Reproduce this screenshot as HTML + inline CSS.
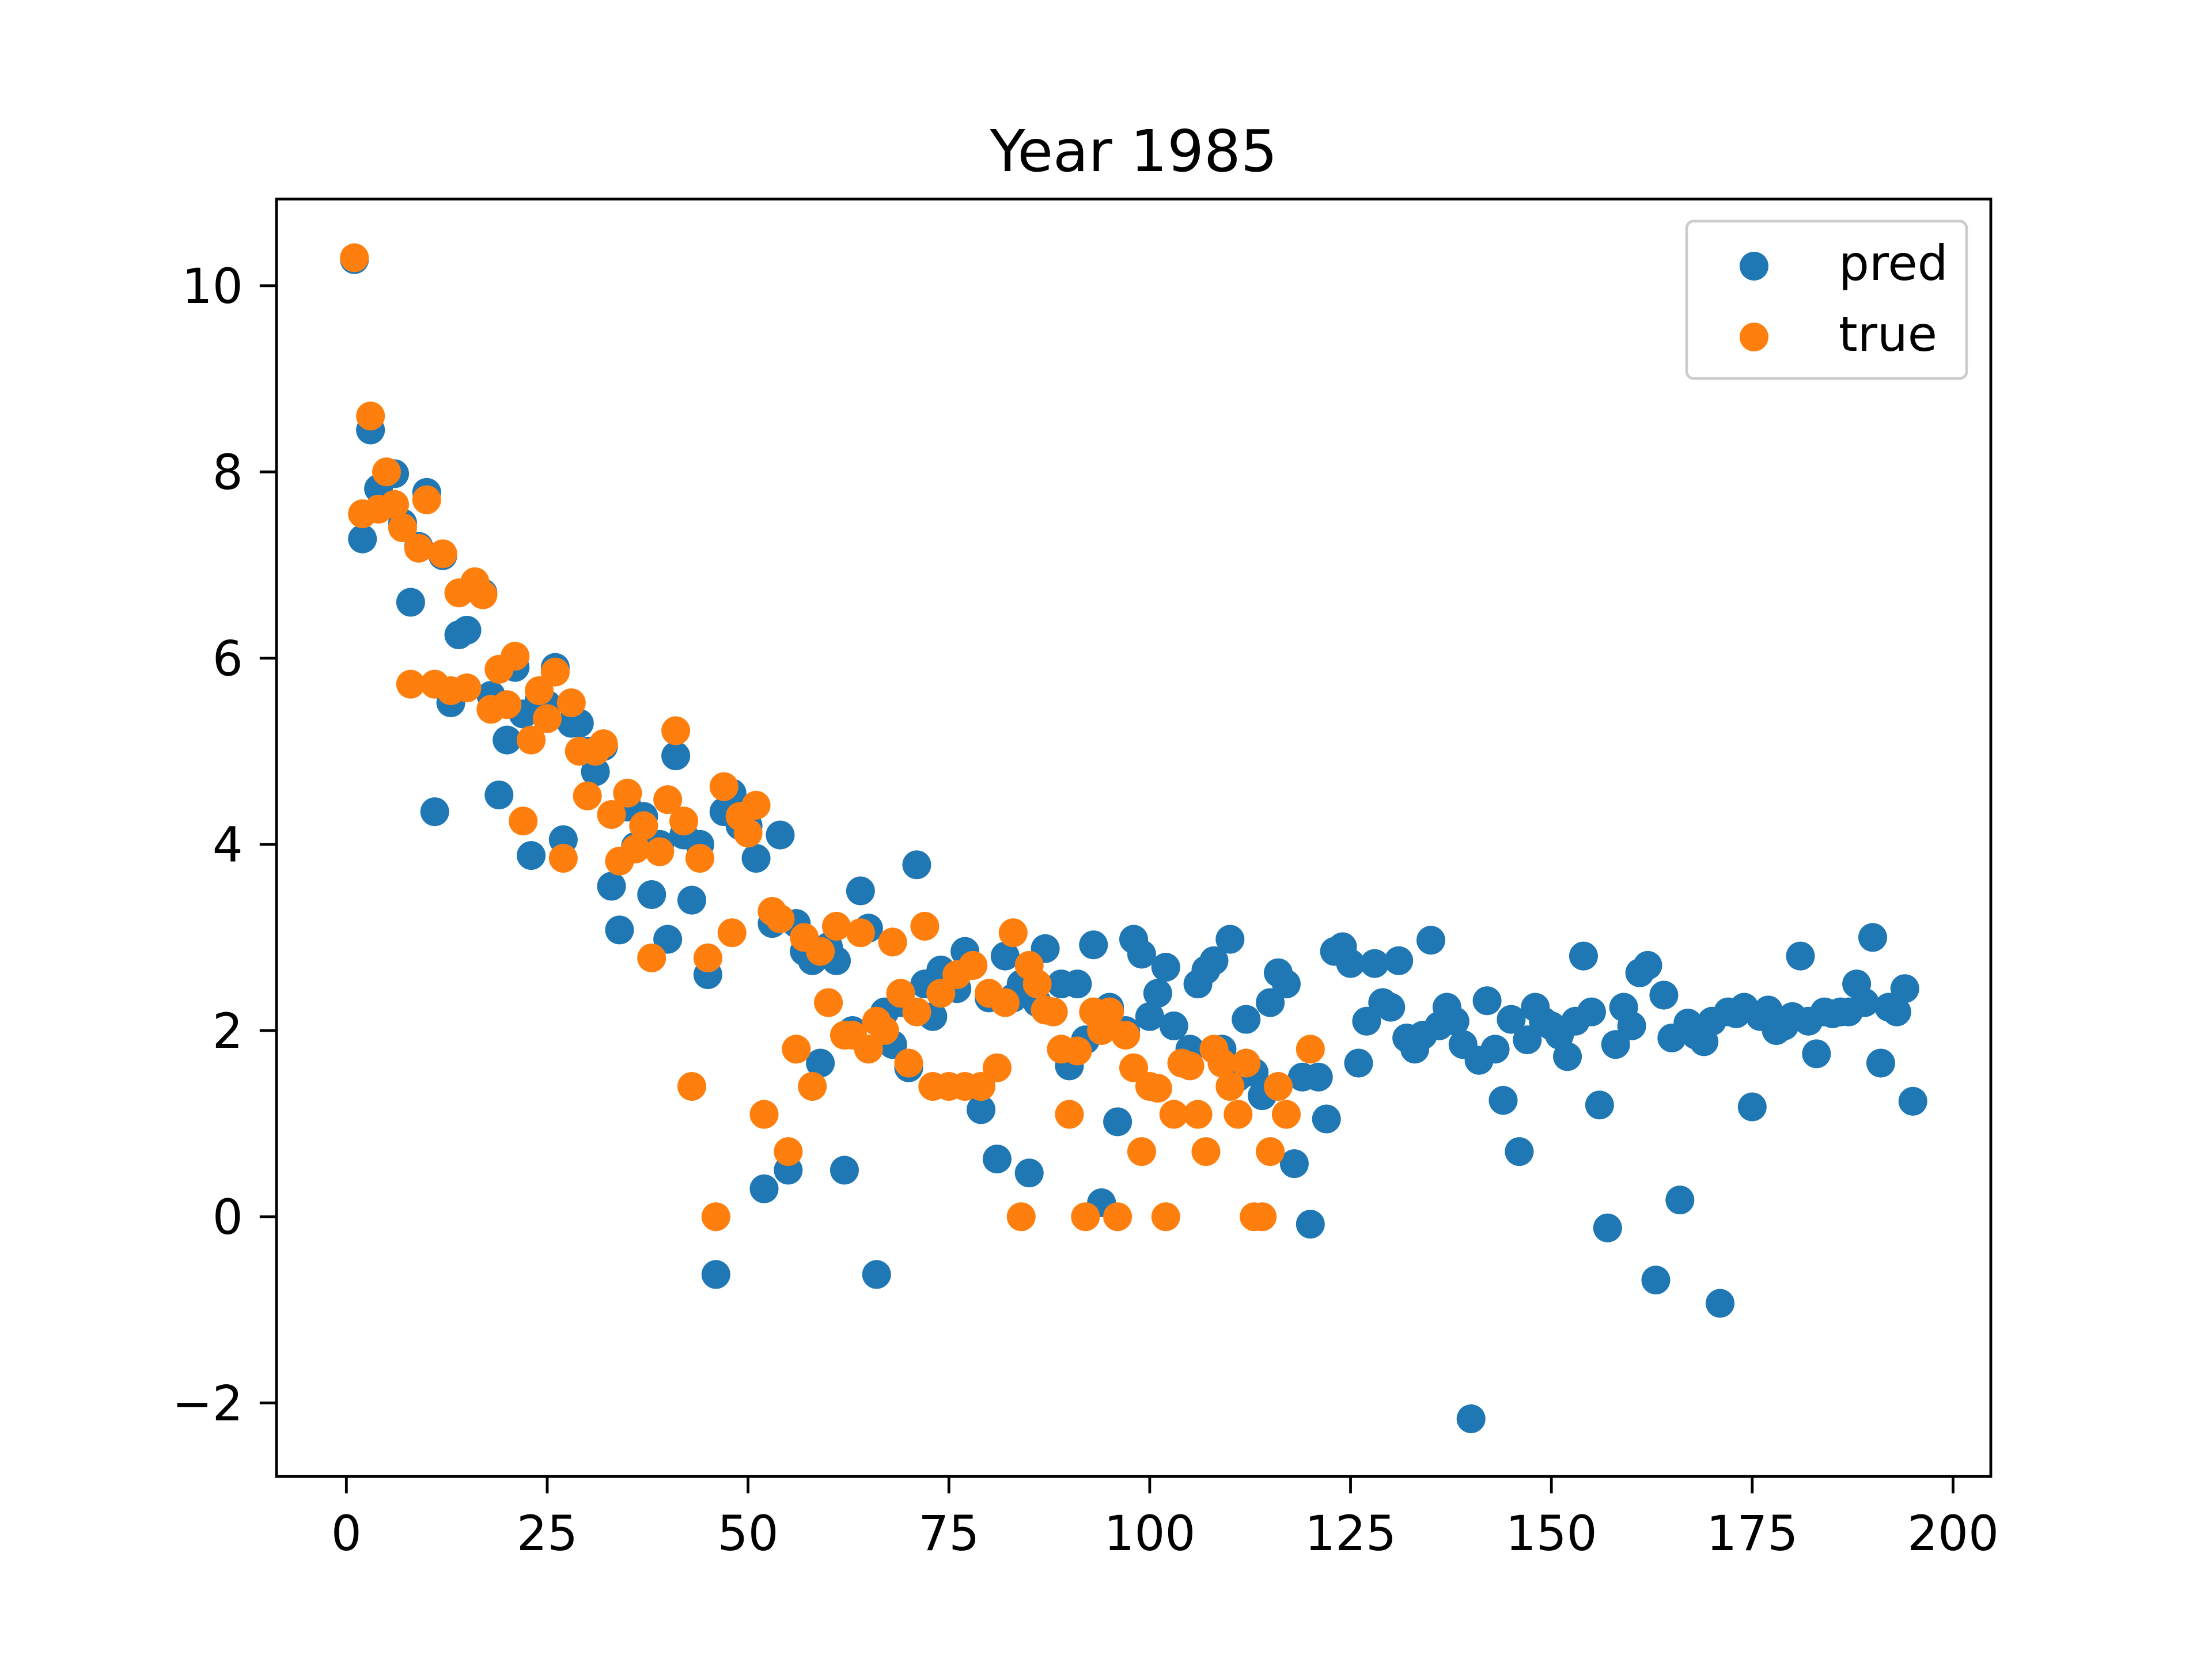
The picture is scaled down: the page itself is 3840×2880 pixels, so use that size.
<!DOCTYPE html>
<html><head><meta charset="utf-8"><style>
html,body{margin:0;padding:0;background:#fff;}
svg{display:block;font-family:"DejaVu Sans","Liberation Sans",sans-serif;}
</style></head><body>
<svg id="chart" width="3840" height="2880" viewBox="0 0 640 480" xmlns="http://www.w3.org/2000/svg">
<rect x="0" y="0" width="640" height="480" fill="#fff"/>
<text x="328" y="49.5" font-size="16.7" text-anchor="middle" fill="#000">Year 1985</text>
<g id="xticks"></g>
<g id="yticks"></g>
<g id="marks"></g>
<rect x="80" y="57.6" width="496" height="369.6" fill="none" stroke="#000" stroke-width="0.8"/>
<g>
<rect x="488" y="64" width="81" height="45.5" rx="2" fill="#fff" fill-opacity="0.8" stroke="#ccc" stroke-width="0.8"/>
<circle cx="507.5" cy="77" r="4.17" fill="#1f77b4"/>
<text x="532" y="81" font-size="13.9" fill="#000">pred</text>
<circle cx="507.5" cy="97.5" r="4.17" fill="#ff7f0e"/>
<text x="532" y="101.5" font-size="13.9" fill="#000">true</text>
</g>
</svg>
<script>
const xTicks = [0,25,50,75,100,125,150,175,200];
const yTicks = [-2,0,2,4,6,8,10];
const yTickLabels = ["\u22122","0","2","4","6","8","10"];
const predVals = [10.28,7.28,8.45,7.82,7.65,7.98,7.45,6.6,7.2,7.78,4.35,7.1,5.52,6.25,6.3,6.75,6.7,5.6,4.53,5.12,5.9,5.4,3.88,5.55,5.5,5.9,4.05,5.3,5.3,5.0,4.78,5.05,3.55,3.08,4.4,3.98,4.3,3.46,4.0,2.98,4.95,4.1,3.4,4.0,2.6,-0.62,4.35,4.55,4.2,4.2,3.85,0.3,3.15,4.1,0.5,3.15,2.85,2.75,1.65,2.9,2.75,0.5,2.0,3.5,3.1,-0.62,2.2,1.85,2.3,1.6,3.78,2.5,2.15,2.65,2.5,2.45,2.85,2.7,1.15,2.35,0.62,2.8,2.35,2.5,0.47,2.3,2.88,2.2,2.5,1.62,2.5,1.9,2.92,0.15,2.25,1.02,2.0,2.98,2.82,2.15,2.4,2.68,2.05,1.65,1.8,2.5,2.65,2.75,1.8,2.98,1.5,2.12,1.55,1.3,2.3,2.62,2.5,0.57,1.5,-0.08,1.5,1.05,2.85,2.9,2.72,1.65,2.1,2.72,2.3,2.25,2.75,1.92,1.8,1.95,2.97,2.05,2.25,2.1,1.85,-2.17,1.68,2.32,1.8,1.25,2.12,0.7,1.9,2.25,2.1,2.05,1.95,1.72,2.1,2.8,2.2,1.2,-0.12,1.85,2.25,2.05,2.62,2.7,-0.68,2.38,1.92,0.18,2.08,1.95,1.88,2.1,-0.93,2.2,2.18,2.25,1.18,2.15,2.22,2.0,2.05,2.15,2.8,2.1,1.75,2.2,2.18,2.2,2.2,2.5,2.3,3.0,1.65,2.25,2.2,2.45,1.24];
const trueVals = [10.3,7.55,8.6,7.6,8.0,7.65,7.4,5.72,7.18,7.7,5.72,7.12,5.65,6.7,5.68,6.82,6.68,5.45,5.88,5.5,6.02,4.25,5.12,5.65,5.35,5.85,3.85,5.52,5.0,4.52,5.0,5.08,4.32,3.82,4.55,3.95,4.2,2.78,3.92,4.48,5.22,4.25,1.4,3.85,2.78,0.0,4.62,3.05,4.3,4.12,4.42,1.1,3.28,3.2,0.7,1.8,3.0,1.4,2.85,2.3,3.12,1.95,1.95,3.05,1.8,2.1,2.0,2.95,2.4,1.65,2.2,3.12,1.4,2.4,1.4,2.6,1.4,2.7,1.4,2.4,1.6,2.3,3.05,0.0,2.7,2.5,2.22,2.2,1.8,1.1,1.78,0.0,2.2,2.0,2.2,0.0,1.95,1.6,0.7,1.4,1.38,0.0,1.1,1.65,1.62,1.1,0.7,1.8,1.65,1.4,1.1,1.65,0.0,0.0,0.7,1.4,1.1,null,null,1.8];

const NS = "http://www.w3.org/2000/svg";
const X0 = 80, X1 = 576, Y0 = 427.2, Y1 = 57.6;
const xMin = -8.7, xMax = 204.7, yMin = -2.79, yMax = 10.93;
function sx(v){ return X0 + (v - xMin) / (xMax - xMin) * (X1 - X0); }
function sy(v){ return Y0 - (v - yMin) / (yMax - yMin) * (Y0 - Y1); }
function mk(tag, attrs){ const e = document.createElementNS(NS, tag); for (const k in attrs) e.setAttribute(k, attrs[k]); return e; }

const xg = document.getElementById('xticks');
xTicks.forEach(t => {
  const l = mk('line', {x1: sx(t), x2: sx(t), y1: Y0, y2: Y0 + 4.86, stroke: '#000', 'stroke-width': 0.8});
  
  
  xg.appendChild(l);
  const tx = mk('text', {x: sx(t), y: 448.5, 'font-size': 13.9, 'text-anchor': 'middle', fill: '#000'});
  tx.textContent = String(t);
  
  
  xg.appendChild(tx);
});
const yg = document.getElementById('yticks');
yTicks.forEach((t, i) => {
  const l = mk('line', {x1: X0 - 4.86, x2: X0, y1: sy(t), y2: sy(t), stroke: '#000', 'stroke-width': 0.8});
  
  
  yg.appendChild(l);
  const tx = mk('text', {x: 70.3, y: sy(t) + 5, 'font-size': 13.9, 'text-anchor': 'end', fill: '#000'});
  tx.textContent = yTickLabels[i];
  
  
  yg.appendChild(tx);
});
const mg = document.getElementById('marks');
predVals.forEach((v, i) => {
  if (v === null) return;
  const c = mk('circle', {cx: sx(i + 1), cy: sy(v), r: 4.17, fill: '#1f77b4'});
  
  
  mg.appendChild(c);
});
trueVals.forEach((v, i) => {
  if (v === null) return;
  const c = mk('circle', {cx: sx(i + 1), cy: sy(v), r: 4.17, fill: '#ff7f0e'});
  
  
  mg.appendChild(c);
});
</script>
</body></html>
